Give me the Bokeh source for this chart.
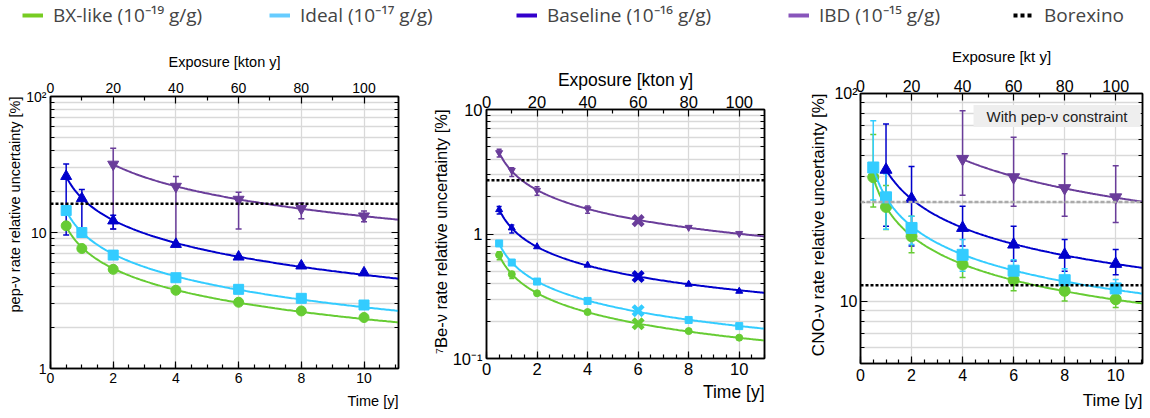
import numpy as np
from bokeh.plotting import figure
from bokeh.models import (Range1d, LinearAxis, LogAxis, FixedTicker, Span, Whisker, TeeHead,
                          ColumnDataSource, BoxAnnotation, Label, Legend, LegendItem, Title)
from bokeh.layouts import column, row
from bokeh.embed import file_html
from bokeh.resources import INLINE

# ---------------- data ----------------
legend_labels = ["BX-like (10\u207b\u00b9\u2079 g/g)", "Ideal (10\u207b\u00b9\u2077 g/g)",
                 "Baseline (10\u207b\u00b9\u2076 g/g)", "IBD (10\u207b\u00b9\u2075 g/g)", "Borexino"]

time_ticks = [0, 2, 4, 6, 8, 10]
time_minor = [0.5 * i for i in range(23)]
exposure_ticks = [0, 20, 40, 60, 80, 100]
exposure_minor = [10, 30, 50, 70, 90]

# pep-nu panel
pep_t = [0.5, 1, 2, 4, 6, 8, 10]
pep_bx = [11.2, 7.63, 5.36, 3.76, 3.07, 2.65, 2.37]
pep_ideal = [14.5, 10.0, 6.82, 4.65, 3.82, 3.28, 2.93]
pep_base = [25.9, 17.8, 12.2, 8.2, 6.62, 5.69, 5.06]
pep_base_err_t = [0.5, 1, 2]
pep_base_lo = [9.6, 9.5, 10.6]
pep_base_hi = [31.9, 20.7, 13.4]
pep_ibd_t = [2, 4, 6, 8, 10]
pep_ibd = [31.7, 21.8, 17.5, 15.0, 13.2]
pep_ibd_lo = [10.6, 8.1, 10.6, 12.6, 12.0]
pep_ibd_hi = [41.6, 25.8, 19.8, 16.5, 14.4]
pep_borexino = 16.3

# 7Be-nu panel
be_t = [0.5, 1, 2, 4, 8, 10]
be_bx = [0.678, 0.475, 0.334, 0.236, 0.166, 0.147]
be_ideal = [0.84, 0.59, 0.415, 0.29, 0.204, 0.182]
be_base = [1.57, 1.12, 0.79, 0.562, 0.395, 0.347]
be_ibd = [4.5, 3.24, 2.24, 1.59, 1.13, 1.01]
be_cross_t = [6]
be_cross_bx = [0.190]
be_cross_ideal = [0.242]
be_cross_base = [0.455]
be_cross_ibd = [1.28]
be_ibd_err_t = [0.5, 1, 2, 4]
be_ibd_lo = [4.15, 2.9, 2.05, 1.47]
be_ibd_hi = [4.8, 3.4, 2.4, 1.68]
be_base_err_t = [0.5, 1]
be_base_lo = [1.45, 1.02]
be_base_hi = [1.66, 1.18]
be_bx_err_t = [0.5, 1]
be_bx_lo = [0.62, 0.44]
be_bx_hi = [0.72, 0.50]
be_borexino = 2.7

# CNO-nu panel
cno_t = [0.5, 1, 2, 4, 6, 8, 10]
cno_bx = [39.5, 28.4, 20.5, 15.0, 12.6, 11.2, 10.2]
cno_bx_lo = [28.4, 22.1, 17.1, 13.0, 11.2, 10.0, 9.3]
cno_bx_hi = [63.5, 36.0, 25.6, 17.5, 13.7, 12.3, 11.2]
cno_ideal = [44.0, 31.6, 22.5, 16.7, 14.0, 12.6, 11.5]
cno_ideal_lo = [30.7, 22.2, 18.7, 13.9, 12.5, 11.0, 10.2]
cno_ideal_hi = [74.0, 41.0, 25.6, 19.8, 15.8, 14.3, 12.7]
cno_base_t = [1, 2, 4, 6, 8, 10]
cno_base = [42.9, 31.1, 22.5, 18.7, 16.7, 15.1]
cno_base_lo = [22.9, 18.4, 18.4, 15.6, 13.9, 13.4]
cno_base_hi = [71.3, 44.5, 28.6, 22.9, 19.8, 17.7]
cno_ibd_t = [4, 6, 8, 10]
cno_ibd = [48.4, 39.5, 35.0, 31.6]
cno_ibd_lo = [32.3, 28.6, 25.6, 23.9]
cno_ibd_hi = [82.5, 61.5, 51.2, 44.8]
cno_borexino = 11.9
cno_gray_ref = 30.0

# ---------------- style ----------------
GREEN = "#66CC33"
LBLUE = "#33CCFF"
BLUE = "#0000CC"
PURPLE = "#6A3D9A"
LEG_COLORS = ["#77CC22", "#66CCFF", "#3300CC", "#8855BB"]
GRID = "#D9D9D9"
FONT = "Liberation Sans"


def fit_curve(t, y, t0, t1):
    t = np.asarray(t, float)
    y = np.asarray(y, float)
    A = np.vstack([1.0 / np.sqrt(t), np.ones_like(t)]).T
    coef = np.linalg.lstsq(A, y, rcond=None)[0]
    xs = np.linspace(t0, t1, 200)
    return xs, coef[0] / np.sqrt(xs) + coef[1]


def style_axis(ax, tick_fs, lab_fs, standoff, lab_standoff, maj_in=7, min_in=4):
    ax.major_tick_in = maj_in
    ax.major_tick_out = 0
    ax.minor_tick_in = min_in
    ax.minor_tick_out = 0
    ax.axis_line_width = 1.5
    ax.major_tick_line_width = 1.2
    ax.minor_tick_line_width = 1.2
    ax.major_label_text_font = FONT
    ax.major_label_text_font_size = tick_fs
    ax.major_label_text_color = "black"
    ax.major_label_standoff = standoff
    ax.axis_label_text_font = FONT
    ax.axis_label_text_font_size = lab_fs
    ax.axis_label_text_font_style = "normal"
    ax.axis_label_text_color = "black"
    ax.axis_label_standoff = lab_standoff


def panel(W, H, bl, br, bt, bb, xmax, y0, y1, ymaj, ymin, yover, cfg):
    p = figure(width=W, height=H, x_range=Range1d(0, xmax), y_range=Range1d(y0, y1),
               y_axis_type="log", output_backend="svg", toolbar_location=None,
               min_border_left=bl, min_border_right=br, min_border_top=bt, min_border_bottom=bb)
    p.extra_x_ranges = {"exp": Range1d(0, xmax * 10)}
    p.background_fill_color = "white"
    p.border_fill_color = "white"
    p.outline_line_color = "black"
    p.outline_line_width = 1.5

    xa = p.xaxis[0]
    xa.ticker = FixedTicker(ticks=time_ticks, minor_ticks=time_minor)
    style_axis(xa, cfg["tick_fs"], cfg["bottom_fs"], cfg["bot_so"], 0)

    ya = p.yaxis[0]
    ya.ticker = FixedTicker(ticks=ymaj, minor_ticks=ymin)
    ya.major_label_overrides = yover
    style_axis(ya, cfg["tick_fs"], cfg["left_fs"], cfg["left_so"], 0)

    top = LinearAxis(x_range_name="exp",
                     ticker=FixedTicker(ticks=exposure_ticks, minor_ticks=exposure_minor),
                     axis_label=cfg["top_title"])
    style_axis(top, cfg["tick_fs"], cfg["top_fs"], cfg["top_so"], cfg["top_lso"])
    p.add_layout(top, "above")

    right = LogAxis(ticker=FixedTicker(ticks=ymaj, minor_ticks=ymin))
    style_axis(right, "0px", "0px", 0, 0)
    right.major_label_text_color = None
    p.add_layout(right, "right")

    # ROOT-style titles aligned to the end of their axes
    p.add_layout(Title(text="Time [y]", align="right", text_font=FONT,
                       text_font_size=cfg["bottom_fs"], text_font_style="normal",
                       text_color="black", standoff=cfg["bot_tso"], offset=0), "below")
    p.add_layout(Title(text=cfg["left_title"], align="right", text_font=FONT,
                       text_font_size=cfg["left_fs"], text_font_style="normal",
                       text_color="black", standoff=cfg["left_tso"], offset=0), "left")

    p.grid.grid_line_color = GRID
    p.grid.grid_line_width = 1.3
    p.ygrid.minor_grid_line_color = GRID
    p.ygrid.minor_grid_line_width = 1.3
    return p


def errbars(p, t, lo, hi, color, w=1.5, head=6):
    src = ColumnDataSource(dict(x=t, lo=lo, hi=hi))
    wk = Whisker(base="x", lower="lo", upper="hi", source=src, dimension="height",
                 line_color=color, line_width=w,
                 lower_head=TeeHead(size=head, line_color=color, line_width=w),
                 upper_head=TeeHead(size=head, line_color=color, line_width=w))
    p.add_layout(wk)


def series(p, t, y, color, marker, size, xmax, lw=2.0):
    xs, ys = fit_curve(t, y, t[0], xmax)
    p.line(xs, ys, line_color=color, line_width=lw)
    p.scatter(t, y, marker=marker, size=size, fill_color=color, line_color=color)


H = 376

# ---------------- panel 1: pep ----------------
X1 = 11.1
p1 = panel(420, H, 50, 22, 56, 48, X1, 1, 100, [1, 10, 100],
           [2, 3, 4, 5, 6, 7, 8, 9, 20, 30, 40, 50, 60, 70, 80, 90],
           {1: "1", 10: "10", 100: "10\u00b2"},
           dict(tick_fs="14px", bottom_fs="14.5px", left_fs="14.5px", top_fs="14.5px",
                left_title="pep-\u03bd rate relative uncertainty [%]",
                top_title="Exposure [kton y]",
                bot_so=4, bot_tso=10, left_so=4, left_tso=1, top_so=4, top_lso=10))
p1.add_layout(Span(location=pep_borexino, dimension="width", line_color="black",
                   line_dash="3 2", line_width=2.5))
errbars(p1, pep_ibd_t, pep_ibd_lo, pep_ibd_hi, PURPLE)
errbars(p1, pep_base_err_t, pep_base_lo, pep_base_hi, BLUE)
series(p1, pep_t, pep_bx, GREEN, "circle", 10, X1)
series(p1, pep_t, pep_ideal, LBLUE, "square", 10, X1)
series(p1, pep_t, pep_base, BLUE, "triangle", 11, X1)
series(p1, pep_ibd_t, pep_ibd, PURPLE, "inverted_triangle", 11, X1)

# ---------------- panel 2: 7Be ----------------
X2 = 11.0
p2 = panel(360, H, 66, 16, 69, 58, X2, 0.1, 10, [0.1, 1, 10],
           [0.2, 0.3, 0.4, 0.5, 0.6, 0.7, 0.8, 0.9, 2, 3, 4, 5, 6, 7, 8, 9],
           {0.1: "10\u207b\u00b9", 1: "1", 10: "10"},
           dict(tick_fs="16.5px", bottom_fs="17.5px", left_fs="16.5px", top_fs="17.5px",
                left_title="\u2077Be-\u03bd rate relative uncertainty [%]",
                top_title="Exposure [kton y]",
                bot_so=4, bot_tso=4, left_so=4, left_tso=0, top_so=2, top_lso=3))
p2.add_layout(Span(location=be_borexino, dimension="width", line_color="black",
                   line_dash="3 2", line_width=2.5))
errbars(p2, be_ibd_err_t, be_ibd_lo, be_ibd_hi, PURPLE, 1.5, 5)
errbars(p2, be_base_err_t, be_base_lo, be_base_hi, BLUE, 1.5, 5)
errbars(p2, be_bx_err_t, be_bx_lo, be_bx_hi, GREEN, 1.5, 5)
for t_, y_, cx, col, mk in [(be_t, be_bx, be_cross_bx, GREEN, "circle"),
                            (be_t, be_ideal, be_cross_ideal, LBLUE, "square"),
                            (be_t, be_base, be_cross_base, BLUE, "triangle"),
                            (be_t, be_ibd, be_cross_ibd, PURPLE, "inverted_triangle")]:
    xs, ys = fit_curve(list(t_) + be_cross_t, list(y_) + cx, t_[0], X2)
    p2.line(xs, ys, line_color=col, line_width=2)
    p2.scatter(t_, y_, marker=mk, size=7, fill_color=col, line_color=col)
    p2.scatter(be_cross_t, cx, marker="x", size=14, line_color=col, line_width=4.5)

# ---------------- panel 3: CNO ----------------
X3 = 11.05
p3 = panel(368, H, 80, 6, 53, 53, X3, 5, 100, [10, 100],
           [5, 6, 7, 8, 9, 20, 30, 40, 50, 60, 70, 80, 90],
           {10: "10", 100: "10\u00b2"},
           dict(tick_fs="16px", bottom_fs="17px", left_fs="17px", top_fs="15px",
                left_title="CNO-\u03bd rate relative uncertainty [%]",
                top_title="Exposure [kt y]",
                bot_so=5, bot_tso=10, left_so=3, left_tso=8, top_so=2, top_lso=12))
p3.add_layout(Span(location=cno_gray_ref, dimension="width", line_color="#AAAAAA",
                   line_dash="4 2", line_width=2.5))
p3.add_layout(Span(location=cno_borexino, dimension="width", line_color="black",
                   line_dash="3 2", line_width=2.5))
errbars(p3, cno_ibd_t, cno_ibd_lo, cno_ibd_hi, PURPLE)
errbars(p3, cno_base_t, cno_base_lo, cno_base_hi, BLUE)
errbars(p3, cno_t, cno_bx_lo, cno_bx_hi, GREEN)
errbars(p3, cno_t, cno_ideal_lo, cno_ideal_hi, LBLUE)
series(p3, cno_t, cno_bx, GREEN, "circle", 11, X3)
series(p3, cno_t, cno_ideal, LBLUE, "square", 11, X3)
series(p3, cno_base_t, cno_base, BLUE, "triangle", 12, X3)
series(p3, cno_ibd_t, cno_ibd, PURPLE, "inverted_triangle", 12, X3)
p3.add_layout(BoxAnnotation(left=4.43, right=10.98, bottom=69, top=88,
                            fill_color="#EEEEEE", fill_alpha=1.0, line_color=None))
p3.add_layout(Label(x=7.7, y=77.5, text="With pep-\u03bd constraint", text_align="center",
                    text_baseline="middle", text_font=FONT, text_font_size="15px",
                    text_color="#222222"))

# ---------------- legend strip ----------------
leg = figure(width=1148, height=40, x_range=Range1d(0, 1), y_range=Range1d(0, 1),
             output_backend="svg", toolbar_location=None, min_border=0,
             x_axis_location=None, y_axis_location=None)
leg.outline_line_color = None
leg.grid.visible = False
leg_x = [22, 269, 516, 788, 1013]
hidden = [-5, -4]  # legend-only renderers, kept outside the visible range
for i, lab in enumerate(legend_labels):
    if i < 4:
        r = leg.line(x=hidden, y=hidden, line_color=LEG_COLORS[i], line_width=4)
    else:
        r = leg.line(x=hidden, y=hidden, line_color="black", line_width=4, line_dash="4 3")
    lg = Legend(items=[LegendItem(label=lab, renderers=[r])], location=(leg_x[i], 12),
                orientation="horizontal", padding=0, margin=0, border_line_color=None,
                background_fill_alpha=0, label_text_font="Open Sans",
                label_text_font_size="19px", glyph_width=21, glyph_height=18,
                label_height=18, label_standoff=10)
    leg.add_layout(lg)

layout = column(leg, row(column(p1), column(p2), column(p3)))
open("out.html", "w").write(file_html(layout, INLINE))
